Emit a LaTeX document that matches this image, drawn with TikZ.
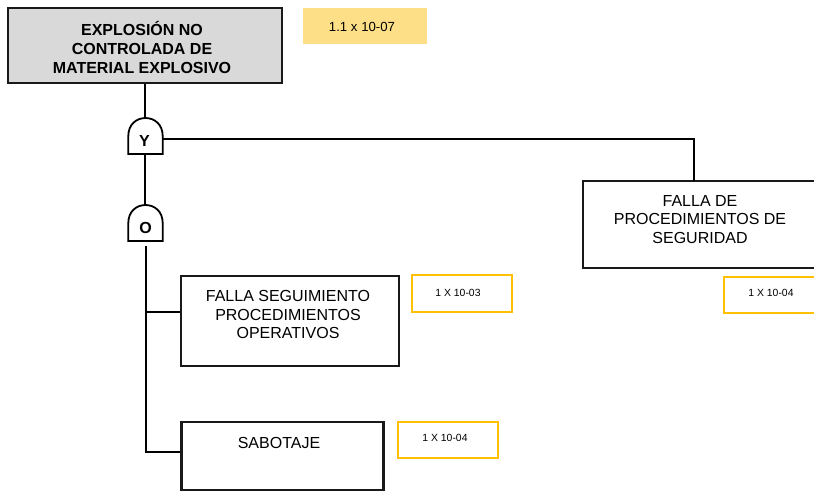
\documentclass[tikz,border=0pt]{standalone}
\usepackage{fontspec}
\setmainfont{Liberation Sans}
\begin{document}
\begin{tikzpicture}[x=1pt,y=-1pt,
  evbox/.style={draw=black!90,line width=2.2pt,rectangle,inner sep=0pt},
  topbox/.style={evbox,fill=black!15},
  probfill/.style={rectangle,inner sep=0pt,fill=yellow!50!orange!45!white},
  probbox/.style={rectangle,inner sep=0pt,draw={rgb,255:red,255;green,192;blue,0},line width=2pt},
  evtext/.style={align=center,font=\fontsize{16}{18.6}\selectfont,inner sep=0pt},
  toptext/.style={align=center,font=\fontsize{16}{19}\selectfont\bfseries,inner sep=0pt},
  smalltext/.style={font=\fontsize{10.4}{12}\selectfont,inner sep=0pt},
  gatelabel/.style={font=\fontsize{16}{19}\selectfont\bfseries,inner sep=0pt},
  gateline/.style={draw=black,line width=1.8pt,fill=white},
  conn/.style={draw=black,line width=2pt}]
\useasboundingbox (0,0) rectangle (814,491);

% top event
\node[topbox,minimum width=274pt,minimum height=75pt] (top) at (145,45.5) {};
\node[toptext] (toptxt) at (142,47) {EXPLOSIÓN NO\\CONTROLADA DE\\MATERIAL EXPLOSIVO};
\node[probfill,minimum width=124pt,minimum height=36pt] (ptop) at (365,26) {};
\node[font=\fontsize{13.2}{15}\selectfont,inner sep=0pt] (ptoptxt) at (362,27) {1.1 x 10-07};

% gate Y
\coordinate (Ytop) at (145,118);
\coordinate (Ybot) at (145,154);
\coordinate (Yright) at (162.7,139);
% gate O
\coordinate (Otop) at (145,205);
\coordinate (Obot) at (145.5,246);

% connectors
\draw[conn] (top.south -| Ytop) -- (Ytop);
\draw[conn] (Ybot) -- (Otop);

\draw[gateline] (128.3,154) -- (128.3,136) .. controls (128.3,112) and (162.7,112) .. (162.7,136) -- (162.7,154) -- cycle;
\node[gatelabel] (Y) at (144.5,141) {Y};
\draw[gateline] (128.3,241) -- (128.3,223) .. controls (128.3,199) and (162.7,199) .. (162.7,223) -- (162.7,241) -- cycle;
\node[gatelabel] (O) at (145.5,228) {O};

% right event
\node[evbox,minimum width=234pt,minimum height=87pt] (f2) at (700,224.5) {};
\node[evtext] (f2txt) at (700,219.5) {FALLA DE\\PROCEDIMIENTOS DE\\SEGURIDAD};
\coordinate (f2in) at (694,181);
\draw[conn] (Yright) -| (f2in);
\node[probbox,minimum width=94pt,minimum height=36pt] (p2) at (771,294.7) {};
\node[smalltext] (p2txt) at (771,293) {1 X 10-04};

% left events
\node[evbox,minimum width=218pt,minimum height=90pt] (f1) at (290,321) {};
\node[evtext] (f1txt) at (288,314.5) {FALLA SEGUIMIENTO\\PROCEDIMIENTOS\\OPERATIVOS};
\node[probbox,minimum width=100pt,minimum height=37pt] (p1) at (462,293.5) {};
\node[smalltext] (p1txt) at (458,293) {1 X 10-03};

\node[evbox,minimum width=202pt,minimum height=68pt] (sab) at (282.5,456) {};
\node[evtext] (sabtxt) at (279,442.7) {SABOTAJE};
\node[probbox,minimum width=100pt,minimum height=36pt] (p3) at (448,440) {};
\node[smalltext] (p3txt) at (445,438) {1 X 10-04};

\coordinate (j1) at (145.5,312);
\coordinate (j2) at (145.5,452);
\draw[conn] (Obot) -- (j2) -- (j2 -| sab.west);
\draw[conn] (j1) -- (j1 -| f1.west);
\end{tikzpicture}
\end{document}
